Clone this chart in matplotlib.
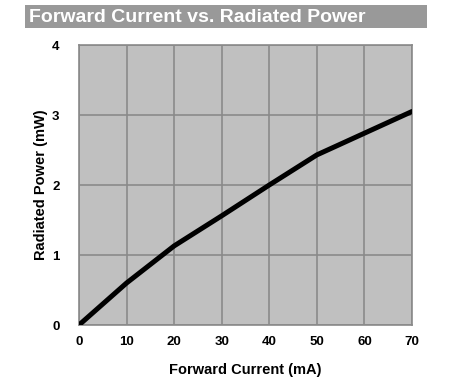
import matplotlib
matplotlib.use("Agg")
from matplotlib import pyplot as plt
from matplotlib.patches import Rectangle

plt.rcParams["font.family"] = ["Liberation Sans", "DejaVu Sans"]

current_ma = [0, 10, 20, 30, 40, 50, 60, 70]
power_mw = [0, 0.6, 1.13, 1.56, 2.0, 2.43, 2.74, 3.05]
x_ticks = [0, 10, 20, 30, 40, 50, 60, 70]
y_ticks = [0, 1, 2, 3, 4]

fig = plt.figure(figsize=(4.51, 3.87), dpi=100)
fig.patch.set_facecolor("white")

# title band
fig.patches.append(Rectangle((25 / 451, 1 - 28 / 387), 402 / 451, 23 / 387,
                             transform=fig.transFigure, facecolor="#999999",
                             edgecolor="none"))
fig.text(29 / 451, 1 - 17 / 387, "Forward Current vs. Radiated Power",
         color="white", fontsize=14, fontweight="bold", va="center", ha="left")

ax = fig.add_axes([79 / 451, 1 - 325 / 387, 333 / 451, 280 / 387])
ax.set_facecolor("#c0c0c0")
ax.plot(current_ma, power_mw, color="black", lw=3.6, solid_capstyle="round",
        solid_joinstyle="round", zorder=3)

ax.set_xlim(0, 70)
ax.set_ylim(0, 4)
ax.set_xticks(x_ticks)
ax.set_yticks(y_ticks)
ax.grid(True, color="#8a8a8a", lw=1.2)
ax.set_axisbelow(True)
for s in ax.spines.values():
    s.set_color("#8a8a8a")
    s.set_linewidth(1.2)

ax.tick_params(length=0, labelsize=9.5)
ax.tick_params(axis="y", pad=14)
ax.tick_params(axis="x", pad=8)
for lbl in ax.get_xticklabels() + ax.get_yticklabels():
    lbl.set_fontweight("bold")

ax.set_xlabel("Forward Current (mA)", fontsize=10.5, fontweight="bold", labelpad=11)
ax.set_ylabel("Radiated Power (mW)", fontsize=10.5, fontweight="bold", labelpad=3)

fig.savefig("out.png", dpi=100)
